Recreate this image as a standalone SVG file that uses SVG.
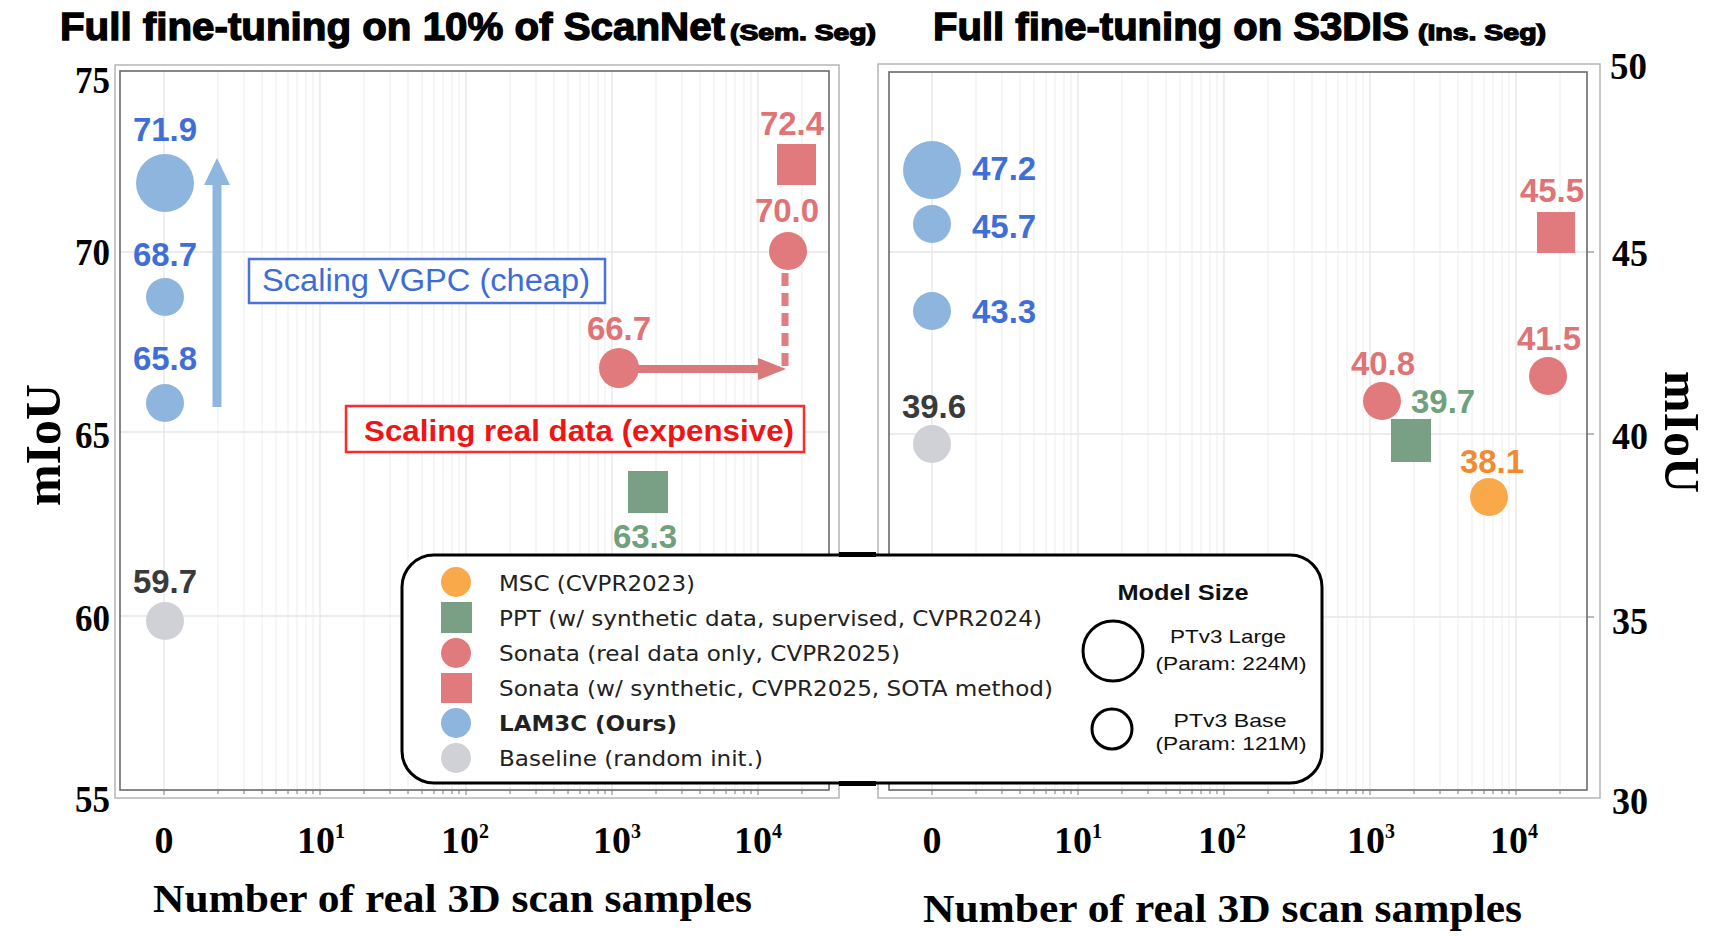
<svg xmlns="http://www.w3.org/2000/svg" width="1717" height="936" viewBox="0 0 1717 936">
<style>
  .title { font-family: "Liberation Sans", Arial, sans-serif; font-weight: bold; fill: #000; stroke: #000; stroke-width: 1.3; }
  .tick { font-family: "Liberation Serif", "Times New Roman", serif; font-weight: bold; font-size: 38px; fill: #000; }
  .axlab { font-family: "Liberation Serif", "Times New Roman", serif; font-weight: bold; fill: #000; }
  .val { font-family: "Liberation Sans", Arial, sans-serif; font-weight: bold; font-size: 33px; text-anchor: middle; }
  .start { text-anchor: start; }
  .blue-t { fill: #3f6fd6; }
  .red-t { fill: #df7375; }
  .green-t { fill: #70a07c; }
  .orange-t { fill: #f28a2e; }
  .dark-t { fill: #3a3a3a; }
  .blue { fill: #8db5de; }
  .red { fill: #e07a7c; }
  .green { fill: #799f84; }
  .orange { fill: #f9a94a; }
  .grey { fill: #cfd1d6; }
  .gminor { stroke: #f1f1f1; stroke-width: 1.2; fill: none; }
  .gmajor { stroke: #e6e6e6; stroke-width: 1.3; fill: none; }
  .frame-out { fill: none; stroke: #b5b5b5; stroke-width: 1.5; }
  .frame-in { fill: none; stroke: #6a6a6a; stroke-width: 1.6; }
  .ticks { stroke: #777; stroke-width: 1; fill: none; }
  .leg { font-family: "DejaVu Sans", "Liberation Sans", sans-serif; font-size: 22px; fill: #222; }
  .legs { font-family: "Liberation Sans", Arial, sans-serif; font-size: 19px; fill: #111; text-anchor: middle; }
</style>

<rect width="1717" height="936" fill="#fff"/>

<!-- panel titles -->
<g id="titles">
  <text class="title" x="60" y="40" font-size="38" textLength="665" lengthAdjust="spacingAndGlyphs">Full fine-tuning on 10% of ScanNet</text>
  <text class="title" x="730" y="40" font-size="22" textLength="146" lengthAdjust="spacingAndGlyphs">(Sem. Seg)</text>
  <text class="title" x="933" y="40" font-size="38" textLength="476" lengthAdjust="spacingAndGlyphs">Full fine-tuning on S3DIS</text>
  <text class="title" x="1418" y="40" font-size="22" textLength="128" lengthAdjust="spacingAndGlyphs">(Ins. Seg)</text>
</g>

<!-- left panel: grid, frame and axes -->
<g id="left-axes">
  <path class="gminor" d="M218 70V790M244 70V790M262 70V790M276 70V790M288 70V790M297 70V790M306 70V790M313 70V790
    M364 70V790M390 70V790M408 70V790M422 70V790M434 70V790M443 70V790M452 70V790M459 70V790
    M510 70V790M536 70V790M554 70V790M568 70V790M580 70V790M589 70V790M598 70V790M605 70V790
    M656 70V790M682 70V790M700 70V790M714 70V790M726 70V790M735 70V790M744 70V790M751 70V790
    M802 70V790"/>
  <path class="gmajor" d="M164 70V790M320 70V790M466 70V790M612 70V790M758 70V790
    M120 252H829M120 432H829M120 616H829"/>
  <rect class="frame-out" x="115" y="65" width="724" height="733"/>
  <rect class="frame-in" x="120" y="71" width="709" height="719"/>
  <path class="ticks" d="M164 790v5M218 790v4M244 790v4M262 790v4M276 790v4M288 790v4M297 790v4M306 790v4M313 790v4
    M320 790v5M364 790v4M390 790v4M408 790v4M422 790v4M434 790v4M443 790v4M452 790v4M459 790v4
    M466 790v5M510 790v4M536 790v4M554 790v4M568 790v4M580 790v4M589 790v4M598 790v4M605 790v4
    M612 790v5M656 790v4M682 790v4M700 790v4M714 790v4M726 790v4M735 790v4M744 790v4M751 790v4
    M758 790v5M802 790v4"/>
  <text class="tick" x="110" y="93" text-anchor="end" textLength="35" lengthAdjust="spacingAndGlyphs">75</text>
  <text class="tick" x="110" y="265" text-anchor="end" textLength="35" lengthAdjust="spacingAndGlyphs">70</text>
  <text class="tick" x="110" y="448" text-anchor="end" textLength="35" lengthAdjust="spacingAndGlyphs">65</text>
  <text class="tick" x="110" y="631" text-anchor="end" textLength="35" lengthAdjust="spacingAndGlyphs">60</text>
  <text class="tick" x="110" y="812" text-anchor="end" textLength="35" lengthAdjust="spacingAndGlyphs">55</text>
  <text class="tick" x="164" y="853" text-anchor="middle">0</text>
  <text class="tick" x="321" y="853" text-anchor="middle">10<tspan font-size="20" dy="-15">1</tspan></text>
  <text class="tick" x="465" y="853" text-anchor="middle">10<tspan font-size="20" dy="-15">2</tspan></text>
  <text class="tick" x="617" y="853" text-anchor="middle">10<tspan font-size="20" dy="-15">3</tspan></text>
  <text class="tick" x="758" y="853" text-anchor="middle">10<tspan font-size="20" dy="-15">4</tspan></text>
  <text class="axlab" x="153" y="912" font-size="40" textLength="599" lengthAdjust="spacingAndGlyphs">Number of real 3D scan samples</text>
  <text class="axlab" font-size="50" text-anchor="middle" transform="translate(60 445) rotate(-90)">mIoU</text>
</g>

<!-- right panel: grid, frame and axes -->
<g id="right-axes">
  <path class="gminor" d="M976 72V790M1002 72V790M1020 72V790M1034 72V790M1046 72V790M1055 72V790M1064 72V790M1071 72V790
    M1122 72V790M1148 72V790M1166 72V790M1180 72V790M1192 72V790M1201 72V790M1210 72V790M1217 72V790
    M1268 72V790M1294 72V790M1312 72V790M1326 72V790M1338 72V790M1347 72V790M1356 72V790M1363 72V790
    M1414 72V790M1440 72V790M1458 72V790M1472 72V790M1484 72V790M1493 72V790M1502 72V790M1509 72V790
    M1560 72V790"/>
  <path class="gmajor" d="M932 72V790M1078 72V790M1224 72V790M1370 72V790M1516 72V790
    M889 252H1587M889 434H1587M889 617H1587"/>
  <rect class="frame-out" x="878" y="64" width="722" height="734"/>
  <rect class="frame-in" x="889" y="72" width="698" height="718"/>
  <path class="ticks" d="M1587 252h7M1587 434h7M1587 617h7
    M932 790v5M976 790v4M1002 790v4M1020 790v4M1034 790v4M1046 790v4M1055 790v4M1064 790v4M1071 790v4
    M1078 790v5M1122 790v4M1148 790v4M1166 790v4M1180 790v4M1192 790v4M1201 790v4M1210 790v4M1217 790v4
    M1224 790v5M1268 790v4M1294 790v4M1312 790v4M1326 790v4M1338 790v4M1347 790v4M1356 790v4M1363 790v4
    M1370 790v5M1414 790v4M1440 790v4M1458 790v4M1472 790v4M1484 790v4M1493 790v4M1502 790v4M1509 790v4
    M1516 790v5M1560 790v4"/>
  <text class="tick" x="1610" y="79" textLength="37" lengthAdjust="spacingAndGlyphs">50</text>
  <text class="tick" x="1612" y="266" textLength="36" lengthAdjust="spacingAndGlyphs">45</text>
  <text class="tick" x="1612" y="449" textLength="36" lengthAdjust="spacingAndGlyphs">40</text>
  <text class="tick" x="1612" y="634" textLength="36" lengthAdjust="spacingAndGlyphs">35</text>
  <text class="tick" x="1612" y="814" textLength="36" lengthAdjust="spacingAndGlyphs">30</text>
  <text class="tick" x="932" y="853" text-anchor="middle">0</text>
  <text class="tick" x="1078" y="853" text-anchor="middle">10<tspan font-size="20" dy="-15">1</tspan></text>
  <text class="tick" x="1222" y="853" text-anchor="middle">10<tspan font-size="20" dy="-15">2</tspan></text>
  <text class="tick" x="1371" y="853" text-anchor="middle">10<tspan font-size="20" dy="-15">3</tspan></text>
  <text class="tick" x="1514" y="853" text-anchor="middle">10<tspan font-size="20" dy="-15">4</tspan></text>
  <text class="axlab" x="923" y="922" font-size="40" textLength="599" lengthAdjust="spacingAndGlyphs">Number of real 3D scan samples</text>
  <text class="axlab" font-size="50" text-anchor="middle" transform="translate(1665 432) rotate(90)">mIoU</text>
</g>

<!-- trend arrows -->
<g id="connectors">
  <line x1="217" y1="407" x2="217" y2="182" stroke="#8fb6de" stroke-width="9"/>
  <polygon points="204,185 230,185 217,158" fill="#8fb6de"/>
  <line x1="619" y1="369" x2="762" y2="369" stroke="#d9797b" stroke-width="8"/>
  <polygon points="758,358 758,380 786,369" fill="#d9797b"/>
  <line x1="785" y1="366" x2="785" y2="268" stroke="#df7d80" stroke-width="7" stroke-dasharray="13 7"/>
</g>

<!-- annotation boxes -->
<g id="note-vgpc">
  <rect x="249" y="259" width="356" height="44" fill="#fff" stroke="#4a72da" stroke-width="2.5"/>
  <text x="262" y="291" font-family="Liberation Sans, Arial, sans-serif" font-size="31" fill="#3d6cd6" textLength="328" lengthAdjust="spacingAndGlyphs">Scaling VGPC (cheap)</text>
</g>
<g id="note-real">
  <rect x="346" y="406" width="458" height="46" fill="#fff" stroke="#ff2a2a" stroke-width="2.5"/>
  <text x="364" y="441" font-family="Liberation Sans, Arial, sans-serif" font-weight="bold" font-size="30" fill="#f01414" textLength="430" lengthAdjust="spacingAndGlyphs">Scaling real data (expensive)</text>
</g>

<!-- ScanNet points -->
<g id="sn-lam3c-large"><circle class="blue" cx="165" cy="183" r="29"/><text class="val blue-t" x="165" y="141">71.9</text></g>
<g id="sn-lam3c-base2"><circle class="blue" cx="165" cy="297" r="19"/><text class="val blue-t" x="165" y="266">68.7</text></g>
<g id="sn-lam3c-base1"><circle class="blue" cx="165" cy="403" r="19"/><text class="val blue-t" x="165" y="370">65.8</text></g>
<g id="sn-baseline"><circle class="grey" cx="165" cy="621" r="19"/><text class="val dark-t" x="165" y="593">59.7</text></g>
<g id="sn-sonata-synth"><rect class="red" x="777" y="144" width="39" height="41"/><text class="val red-t" x="792" y="135">72.4</text></g>
<g id="sn-sonata-large"><circle class="red" cx="788" cy="251" r="19"/><text class="val red-t" x="787" y="222">70.0</text></g>
<g id="sn-sonata-base"><circle class="red" cx="619" cy="368" r="20"/><text class="val red-t" x="619" y="340">66.7</text></g>
<g id="sn-ppt"><rect class="green" x="628" y="471" width="40" height="42"/><text class="val green-t" x="645" y="548">63.3</text></g>

<!-- S3DIS points -->
<g id="s3-lam3c-large"><circle class="blue" cx="932" cy="170" r="29"/><text class="val blue-t start" x="972" y="180">47.2</text></g>
<g id="s3-lam3c-base2"><circle class="blue" cx="932" cy="224" r="19"/><text class="val blue-t start" x="972" y="238">45.7</text></g>
<g id="s3-lam3c-base1"><circle class="blue" cx="932" cy="311" r="19"/><text class="val blue-t start" x="972" y="323">43.3</text></g>
<g id="s3-baseline"><circle class="grey" cx="932" cy="444" r="19"/><text class="val dark-t" x="934" y="418">39.6</text></g>
<g id="s3-sonata-base"><circle class="red" cx="1382" cy="401" r="19"/><text class="val red-t" x="1383" y="375">40.8</text></g>
<g id="s3-ppt"><rect class="green" x="1391" y="419" width="40" height="43"/><text class="val green-t start" x="1411" y="413">39.7</text></g>
<g id="s3-sonata-large"><circle class="red" cx="1548" cy="376" r="19"/><text class="val red-t" x="1549" y="350">41.5</text></g>
<g id="s3-msc"><circle class="orange" cx="1489" cy="497" r="19"/><text class="val orange-t" x="1492" y="473">38.1</text></g>
<g id="s3-sonata-synth"><rect class="red" x="1537" y="212" width="38" height="41"/><text class="val red-t" x="1552" y="202">45.5</text></g>

<!-- legend -->
<g id="legend">
  <rect x="402" y="555" width="920" height="228" rx="32" ry="32" fill="#fff" stroke="#000" stroke-width="3"/>
  <rect x="839" y="552" width="37" height="5" fill="#000"/>
  <rect x="839" y="781" width="37" height="5" fill="#000"/>
  <circle class="orange" cx="456" cy="582" r="15"/>
  <rect class="green" x="441" y="602" width="31" height="31"/>
  <circle class="red" cx="456" cy="653" r="15"/>
  <rect class="red" x="441" y="673" width="31" height="30"/>
  <circle class="blue" cx="456" cy="723" r="15"/>
  <circle class="grey" cx="456" cy="758" r="15"/>
  <text class="leg" x="499" y="591" textLength="196" lengthAdjust="spacingAndGlyphs">MSC (CVPR2023)</text>
  <text class="leg" x="499" y="626" textLength="543" lengthAdjust="spacingAndGlyphs">PPT (w/ synthetic data, supervised, CVPR2024)</text>
  <text class="leg" x="499" y="661" textLength="401" lengthAdjust="spacingAndGlyphs">Sonata (real data only, CVPR2025)</text>
  <text class="leg" x="499" y="696" textLength="554" lengthAdjust="spacingAndGlyphs">Sonata (w/ synthetic, CVPR2025, SOTA method)</text>
  <text class="leg" x="499" y="731" font-weight="bold" textLength="178" lengthAdjust="spacingAndGlyphs">LAM3C (Ours)</text>
  <text class="leg" x="499" y="766" textLength="264" lengthAdjust="spacingAndGlyphs">Baseline (random init.)</text>
  <text x="1183" y="600" font-family="Liberation Sans, Arial, sans-serif" font-weight="bold" font-size="22" text-anchor="middle" fill="#111" textLength="131" lengthAdjust="spacingAndGlyphs">Model Size</text>
  <circle cx="1113" cy="651" r="30" fill="#fff" stroke="#000" stroke-width="3"/>
  <circle cx="1112" cy="729" r="20" fill="#fff" stroke="#000" stroke-width="3"/>
  <text class="legs" x="1228" y="643" textLength="116" lengthAdjust="spacingAndGlyphs">PTv3 Large</text>
  <text class="legs" x="1231" y="670" textLength="151" lengthAdjust="spacingAndGlyphs">(Param: 224M)</text>
  <text class="legs" x="1230" y="727" textLength="113" lengthAdjust="spacingAndGlyphs">PTv3 Base</text>
  <text class="legs" x="1231" y="750" textLength="151" lengthAdjust="spacingAndGlyphs">(Param: 121M)</text>
</g>
</svg>
